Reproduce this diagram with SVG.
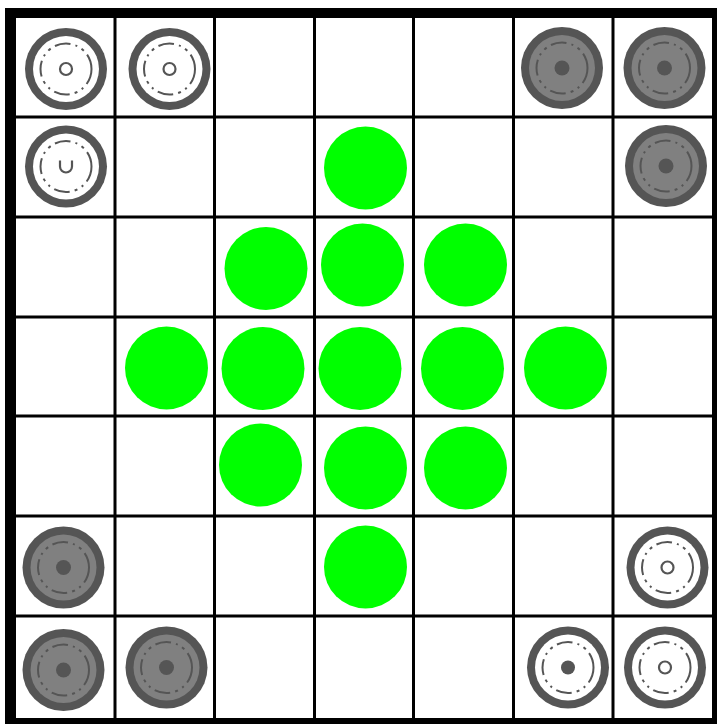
<svg xmlns="http://www.w3.org/2000/svg" xmlns:xlink="http://www.w3.org/1999/xlink" width="717" height="724" viewBox="0 0 717 724">
<style>
.grid line{stroke:#000;stroke-width:3}
.g{fill:#00ff00}
.ring{fill:#555}
.lt{fill:#fff}
.dk{fill:#808080}
.dash{fill:none;stroke:#555;stroke-width:2;stroke-dasharray:16 5 2 5 3 5}
</style>
<defs>
<g id="light">
<circle r="41" class="ring"/>
<circle r="33" class="lt"/>
<circle r="25.5" class="dash"/>
<circle r="6" fill="none" stroke="#555" stroke-width="2.2"/>
</g>
<g id="lightdot">
<circle r="41" class="ring"/>
<circle r="33" class="lt"/>
<circle r="25.5" class="dash"/>
<circle r="7" fill="#555"/>
</g>
<g id="lightu">
<circle r="41" class="ring"/>
<circle r="33" class="lt"/>
<circle r="25.5" class="dash"/>
<path d="M-6,-6 V0 A6,6 0 0 0 6,0 V-6" fill="none" stroke="#555" stroke-width="2.2"/>
</g>
<g id="dark">
<circle r="41" class="ring"/>
<circle r="33" class="dk"/>
<circle r="25.5" class="dash"/>
<circle r="7.5" fill="#555"/>
</g>
</defs>
<rect x="0" y="0" width="717" height="724" fill="#fff"/>
<rect x="5" y="8" width="712" height="716" fill="#000"/>
<rect x="16" y="18" width="696" height="700" fill="#fff"/>
<g class="grid">
<line x1="115" y1="18" x2="115" y2="718"/>
<line x1="214.5" y1="18" x2="214.5" y2="718"/>
<line x1="314.5" y1="18" x2="314.5" y2="718"/>
<line x1="413.5" y1="18" x2="413.5" y2="718"/>
<line x1="513.5" y1="18" x2="513.5" y2="718"/>
<line x1="613" y1="18" x2="613" y2="718"/>
<line x1="16" y1="117" x2="712" y2="117"/>
<line x1="16" y1="217" x2="712" y2="217"/>
<line x1="16" y1="317" x2="712" y2="317"/>
<line x1="16" y1="416" x2="712" y2="416"/>
<line x1="16" y1="516" x2="712" y2="516"/>
<line x1="16" y1="616" x2="712" y2="616"/>
</g>
<g id="stones">
<g id="s-0-0"><use xlink:href="#light" x="66" y="69"/></g>
<g id="s-0-1"><use xlink:href="#light" x="169.5" y="69"/></g>
<g id="s-1-0"><use xlink:href="#lightu" x="66" y="166.5"/></g>
<g id="s-0-5"><use xlink:href="#dark" x="562" y="68"/></g>
<g id="s-0-6"><use xlink:href="#dark" x="664.5" y="68"/></g>
<g id="s-1-6"><use xlink:href="#dark" x="666" y="166"/></g>
<g id="s-5-0"><use xlink:href="#dark" x="63.5" y="567.5"/></g>
<g id="s-6-0"><use xlink:href="#dark" x="63.5" y="670"/></g>
<g id="s-6-1"><use xlink:href="#dark" x="166.5" y="667.5"/></g>
<g id="s-5-6"><use xlink:href="#light" x="667.5" y="567.5"/></g>
<g id="s-6-5"><use xlink:href="#lightdot" x="568" y="667.5"/></g>
<g id="s-6-6"><use xlink:href="#light" x="665" y="667.5"/></g>
</g>
<g id="greens">
<g id="g-1-3"><circle class="g" cx="365.5" cy="168" r="41.5"/></g>
<g id="g-2-2"><circle class="g" cx="266" cy="268.5" r="41.5"/></g>
<g id="g-2-3"><circle class="g" cx="362.5" cy="265" r="41.5"/></g>
<g id="g-2-4"><circle class="g" cx="465.5" cy="265" r="41.5"/></g>
<g id="g-3-1"><circle class="g" cx="166.5" cy="368" r="41.5"/></g>
<g id="g-3-2"><circle class="g" cx="263" cy="368.5" r="41.5"/></g>
<g id="g-3-3"><circle class="g" cx="360" cy="368.5" r="41.5"/></g>
<g id="g-3-4"><circle class="g" cx="462.5" cy="368.5" r="41.5"/></g>
<g id="g-3-5"><circle class="g" cx="565.5" cy="368" r="41.5"/></g>
<g id="g-4-2"><circle class="g" cx="260.5" cy="465" r="41.5"/></g>
<g id="g-4-3"><circle class="g" cx="365.5" cy="468" r="41.5"/></g>
<g id="g-4-4"><circle class="g" cx="465.5" cy="468" r="41.5"/></g>
<g id="g-5-3"><circle class="g" cx="365.5" cy="567" r="41.5"/></g>
</g>
</svg>
